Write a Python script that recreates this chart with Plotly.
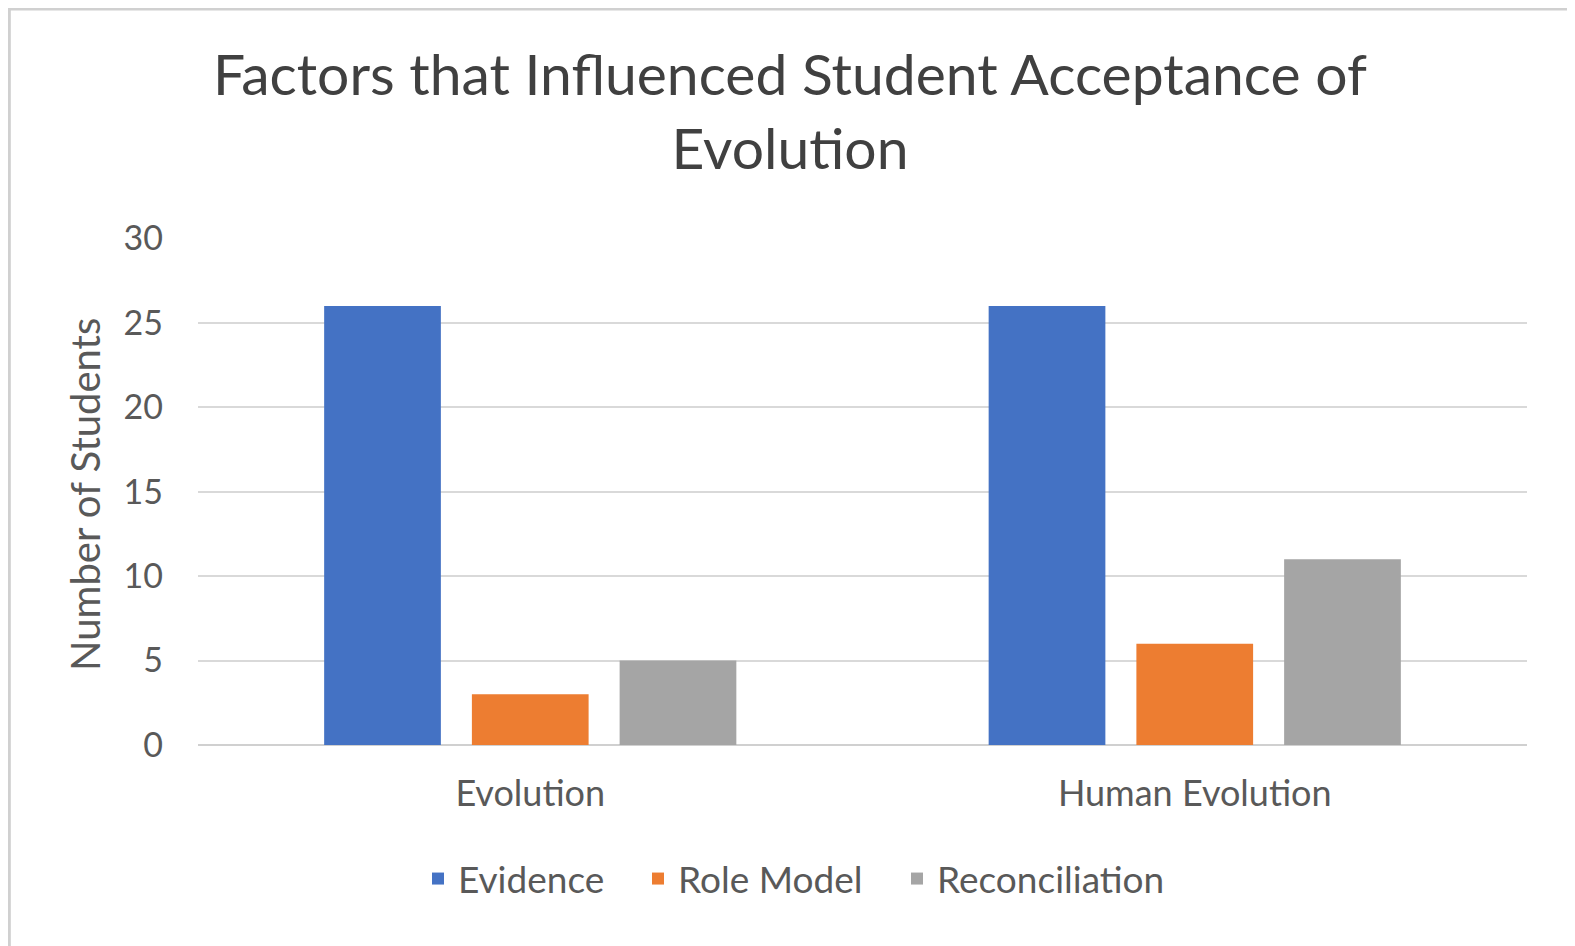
import plotly.graph_objects as go

categories = ["Evolution", "Human Evolution"]
series_names = ["Evidence", "Role Model", "Reconciliation"]
evidence = [26, 26]
role_model = [3, 6]
reconciliation = [5, 11]
colors = ["#4472C4", "#ED7D31", "#A5A5A5"]
y_ticks = [0, 5, 10, 15, 20, 25, 30]

W, H = 1575, 946
ml, mr, mt, mb = 190, 56, 230, 209
pw, ph = W - ml - mr, H - mt - mb

# legend entry left positions (figure px)
legend_x = [410, 630, 889]
legend_names = ["legend", "legend2", "legend3"]

fig = go.Figure()
for name, vals, c, lg in zip(series_names, [evidence, role_model, reconciliation], colors, legend_names):
    fig.add_trace(go.Bar(x=categories, y=vals, name=name, legend=lg,
                         marker=dict(color=c, line=dict(width=0))))

fig.add_shape(type="rect", xref="paper", yref="paper",
              x0=-ml / pw + 0.001, x1=1 + mr / pw - 0.001,
              y0=-mb / ph + 0.002, y1=1 + mt / ph - 0.002,
              line=dict(color="#D0D0D0", width=3), layer="below")

fig.add_annotation(text="Number of Students", xref="paper", yref="paper",
                   x=(77 - ml) / pw, y=(H - mb - 487) / ph, textangle=-90,
                   showarrow=False, xanchor="center", yanchor="middle",
                   font=dict(size=40, color="#595959"))

leg_common = dict(orientation="h", xanchor="left", xref="paper",
                  y=(H - mb - 871) / ph, yanchor="middle",
                  font=dict(size=37, color="#595959"), bgcolor="rgba(0,0,0,0)")

fig.update_layout(
    width=W, height=H,
    margin=dict(l=ml, r=mr, t=mt, b=mb, autoexpand=False),
    paper_bgcolor="white", plot_bgcolor="white",
    font=dict(family="Lato, Open Sans, sans-serif", color="#595959"),
    title=dict(text="Factors that Influenced Student Acceptance of<br>Evolution",
               x=782 / W, xref="container", xanchor="center",
               y=1 - 87 / H, yref="container", yanchor="middle",
               font=dict(size=57, color="#404040")),
    barmode="group", bargap=0.333, bargroupgap=0.21,
    showlegend=True,
    legend=dict(x=(legend_x[0] - ml) / pw, **leg_common),
    legend2=dict(x=(legend_x[1] - ml) / pw, **leg_common),
    legend3=dict(x=(legend_x[2] - ml) / pw, **leg_common),
    xaxis=dict(showgrid=False, showline=False, ticks="", automargin=False,
               tickfont=dict(size=36, color="#595959"), ticklabelstandoff=24),
    yaxis=dict(range=[0, 30.03], tickvals=y_ticks, showgrid=True, gridcolor="#D9D9D9", gridwidth=2,
               zeroline=True, zerolinecolor="#D0D0D0", zerolinewidth=2, automargin=False,
               tickfont=dict(size=34, color="#595959"), ticklabelstandoff=34),
)

fig.write_html("out.html")
